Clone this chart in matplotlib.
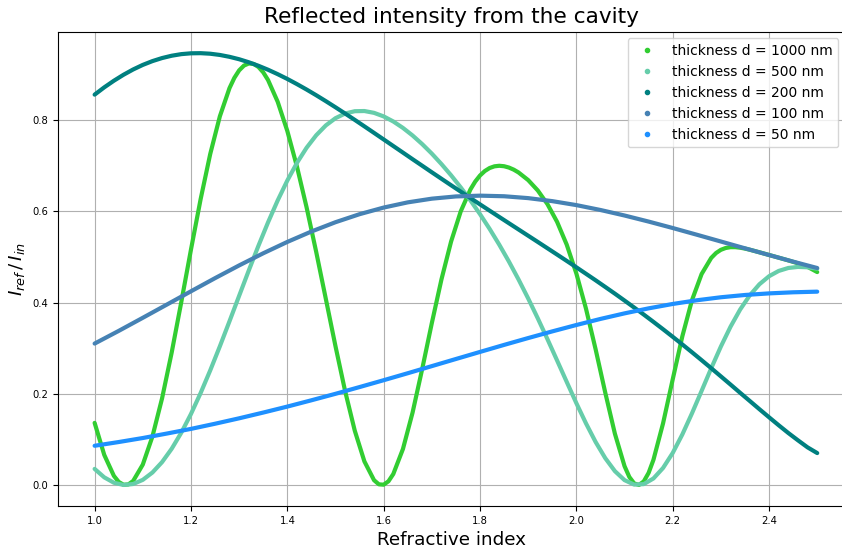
import numpy as np
import matplotlib
matplotlib.use("Agg")
import matplotlib.pyplot as plt
from matplotlib.lines import Line2D

# ---- data ----
# refractive index samples
n_1000 = [1.00, 1.02, 1.04, 1.05, 1.06, 1.07, 1.08, 1.10, 1.12, 1.14, 1.16, 1.18, 1.20, 1.22,
          1.24, 1.26, 1.28, 1.29, 1.30, 1.31, 1.32, 1.33, 1.34, 1.35, 1.36, 1.38, 1.40, 1.42,
          1.44, 1.46, 1.48, 1.50, 1.52, 1.54, 1.56, 1.58, 1.59, 1.60, 1.61, 1.62, 1.64, 1.66,
          1.68, 1.70, 1.72, 1.74, 1.76, 1.78, 1.79, 1.80, 1.81, 1.82, 1.83, 1.84, 1.85, 1.86,
          1.87, 1.88, 1.90, 1.92, 1.94, 1.96, 1.98, 2.00, 2.02, 2.04, 2.06, 2.08, 2.10, 2.11,
          2.12, 2.13, 2.14, 2.15, 2.16, 2.18, 2.20, 2.22, 2.24, 2.26, 2.28, 2.29, 2.30, 2.31,
          2.32, 2.33, 2.34, 2.35, 2.36, 2.38, 2.40, 2.42, 2.44, 2.46, 2.48, 2.50]
n_fine = np.linspace(1.0, 2.5, 76)      # step 0.02
n_coarse = np.linspace(1.0, 2.5, 31)    # step 0.05

r_1000 = [0.1362, 0.0660, 0.0200, 0.0068, 0.0006, 0.0013, 0.0089, 0.0448, 0.1063, 0.1899,
          0.2905, 0.4016, 0.5160, 0.6263, 0.7256, 0.8082, 0.8700, 0.8923, 0.9088, 0.9193,
          0.9239, 0.9229, 0.9163, 0.9045, 0.8876, 0.8400, 0.7760, 0.6980, 0.6086, 0.5107,
          0.4077, 0.3042, 0.2058, 0.1192, 0.0518, 0.0106, 0.0015, 0.0007, 0.0082, 0.0241,
          0.0789, 0.1587, 0.2543, 0.3550, 0.4507, 0.5337, 0.5998, 0.6476, 0.6650, 0.6784,
          0.6882, 0.6948, 0.6985, 0.6997, 0.6987, 0.6958, 0.6912, 0.6850, 0.6683, 0.6455,
          0.6156, 0.5768, 0.5268, 0.4636, 0.3865, 0.2974, 0.2025, 0.1125, 0.0414, 0.0176,
          0.0035, 0.0002, 0.0080, 0.0266, 0.0551, 0.1352, 0.2314, 0.3259, 0.4051, 0.4624,
          0.4978, 0.5085, 0.5155, 0.5195, 0.5213, 0.5213, 0.5201, 0.5182, 0.5157, 0.5101,
          0.5042, 0.4983, 0.4923, 0.4859, 0.4781, 0.4667]

r_500 = [0.0353, 0.0168, 0.0050, 0.0001, 0.0022, 0.0113, 0.0274, 0.0502, 0.0795, 0.1148,
         0.1557, 0.2015, 0.2513, 0.3041, 0.3590, 0.4147, 0.4702, 0.5242, 0.5757, 0.6237,
         0.6673, 0.7060, 0.7392, 0.7666, 0.7882, 0.8040, 0.8142, 0.8193, 0.8197, 0.8157,
         0.8079, 0.7968, 0.7827, 0.7661, 0.7472, 0.7263, 0.7034, 0.6788, 0.6523, 0.6240,
         0.5937, 0.5613, 0.5267, 0.4898, 0.4505, 0.4089, 0.3652, 0.3197, 0.2730, 0.2260,
         0.1794, 0.1351, 0.0943, 0.0589, 0.0304, 0.0107, 0.0009, 0.0020, 0.0143, 0.0374,
         0.0702, 0.1108, 0.1571, 0.2063, 0.2560, 0.3035, 0.3469, 0.3846, 0.4157, 0.4400,
         0.4576, 0.4692, 0.4757, 0.4780, 0.4772, 0.4742]

r_200 = [0.8556, 0.8716, 0.8861, 0.8992, 0.9108, 0.9208, 0.9291, 0.9358, 0.9409, 0.9444,
         0.9462, 0.9465, 0.9453, 0.9426, 0.9385, 0.9332, 0.9266, 0.9189, 0.9102, 0.9005,
         0.8900, 0.8787, 0.8668, 0.8543, 0.8413, 0.8279, 0.8142, 0.8003, 0.7861, 0.7718,
         0.7574, 0.7430, 0.7286, 0.7141, 0.6998, 0.6854, 0.6712, 0.6570, 0.6430, 0.6290,
         0.6151, 0.6013, 0.5875, 0.5738, 0.5601, 0.5464, 0.5327, 0.5189, 0.5051, 0.4912,
         0.4772, 0.4630, 0.4487, 0.4341, 0.4194, 0.4043, 0.3890, 0.3735, 0.3576, 0.3414,
         0.3249, 0.3081, 0.2910, 0.2736, 0.2560, 0.2381, 0.2202, 0.2021, 0.1842, 0.1662,
         0.1485, 0.1310, 0.1140, 0.0980, 0.0825, 0.0700]

r_100 = [0.3100, 0.3378, 0.3665, 0.3955, 0.4246, 0.4534, 0.4813, 0.5079, 0.5328, 0.5556,
         0.5760, 0.5936, 0.6081, 0.6195, 0.6276, 0.6325, 0.6342, 0.6329, 0.6288, 0.6222,
         0.6135, 0.6028, 0.5907, 0.5774, 0.5633, 0.5486, 0.5337, 0.5188, 0.5041, 0.4896,
         0.4756]

r_50 = [0.0860, 0.0942, 0.1030, 0.1128, 0.1230, 0.1343, 0.1462, 0.1588, 0.1719, 0.1857,
        0.1999, 0.2147, 0.2297, 0.2450, 0.2606, 0.2762, 0.2917, 0.3071, 0.3221, 0.3367,
        0.3507, 0.3640, 0.3762, 0.3872, 0.3968, 0.4049, 0.4115, 0.4165, 0.4200, 0.4224,
        0.4238]

labels = ["thickness d = 1000 nm", "thickness d = 500 nm", "thickness d = 200 nm",
          "thickness d = 100 nm", "thickness d = 50 nm"]
colors = ["#32CD32", "#66CDAA", "#008080", "#4682B4", "#1E90FF"]

series = [(n_1000, r_1000), (n_fine, r_500), (n_fine, r_200),
          (n_coarse, r_100), (n_coarse, r_50)]

# ---- figure ----
W, H = 842, 548
fig = plt.figure(figsize=(W / 100, H / 100), dpi=100)
ax = fig.add_axes([58.3 / W, (H - 506) / H, 787.1 / W, 474.5 / H])

for (xs, ys), c in zip(series, colors):
    ax.plot(xs, ys, color=c, lw=3.0, solid_capstyle="round", solid_joinstyle="round")

ax.set_xlim(0.9246, 2.5585)
ax.set_ylim(-0.046, 0.994)
ax.set_xticks([1.0, 1.2, 1.4, 1.6, 1.8, 2.0, 2.2, 2.4])
ax.set_yticks([0.0, 0.2, 0.4, 0.6, 0.8])
ax.tick_params(labelsize=7.2)
ax.grid(True, color="#b0b0b0", lw=0.8)

ax.set_title("Reflected intensity from the cavity", fontsize=15.6)
ax.set_xlabel("Refractive index", fontsize=13.2)
ax.set_ylabel(r"$I_{ref}\,/\,I_{in}$", fontsize=13.2)

handles = [Line2D([], [], marker=".", linestyle="None", color=c, markersize=6)
           for c in colors]
ax.legend(handles, labels, loc="upper right", fontsize=10.0)

fig.savefig("out.png", dpi=100)
